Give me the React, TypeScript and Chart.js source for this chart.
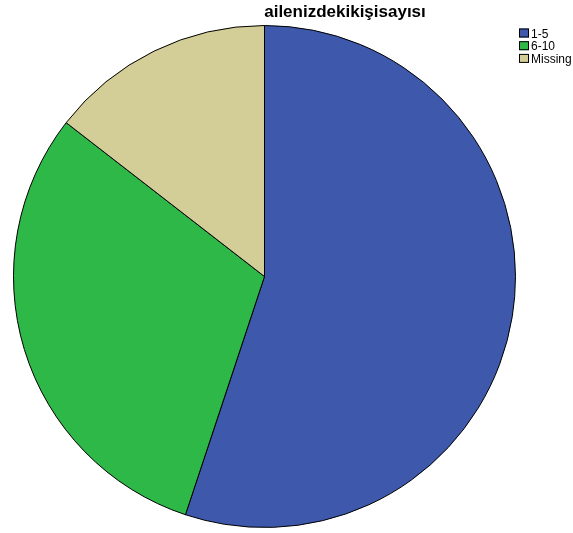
import React, { useEffect, useRef } from "react";
import { Chart, registerables } from "chart.js";

Chart.register(...registerables);

const title = "ailenizdekikişisayısı";
const categories = ["1-5", "6-10", "Missing"];
const values = [55.1, 30.4, 14.5];
const colors = ["#3E58AC", "#2EB848", "#D3CE97"];

const overlayPlugin = {
  id: "spssOverlay",
  afterDraw(chart: any) {
    const ctx = chart.ctx;
    ctx.save();
    ctx.fillStyle = "#000";
    ctx.font = "bold 17px 'Liberation Sans', Arial, sans-serif";
    ctx.textAlign = "center";
    ctx.textBaseline = "alphabetic";
    ctx.fillText(title, 345, 16.5);

    ctx.font = "12px 'Liberation Sans', Arial, sans-serif";
    ctx.textAlign = "left";
    categories.forEach((c, i) => {
      const y = 28.5 + i * 12.7;
      ctx.fillStyle = colors[i];
      ctx.fillRect(519, y, 10, 9);
      ctx.strokeStyle = "#000";
      ctx.lineWidth = 1;
      ctx.strokeRect(519.5, y + 0.5, 9, 8);
      ctx.fillStyle = "#000";
      ctx.fillText(c, 531, y + 9);
    });
    ctx.restore();
  },
};

export default function App() {
  const ref = useRef<HTMLCanvasElement | null>(null);
  useEffect(() => {
    if (!ref.current) return;
    const chart = new Chart(ref.current, {
      type: "pie",
      data: {
        labels: categories,
        datasets: [
          {
            data: values,
            backgroundColor: colors,
            borderColor: "#000",
            borderWidth: 1,
          },
        ],
      },
      options: {
        responsive: false,
        animation: false,
        layout: { padding: { left: 13, top: 25, right: 57, bottom: 5 } },
        plugins: {
          legend: { display: false },
          title: { display: false },
          tooltip: { enabled: false },
        },
      },
      plugins: [overlayPlugin],
    });
    return () => chart.destroy();
  }, []);
  return (
    <div style={{ position: "fixed", left: 0, top: 0, width: 573, height: 533, background: "#fff" }}>
      <canvas ref={ref} width={573} height={533} />
    </div>
  );
}
